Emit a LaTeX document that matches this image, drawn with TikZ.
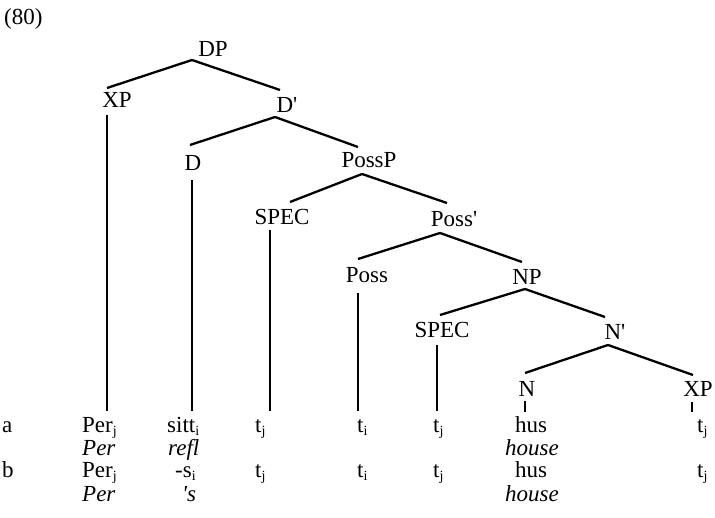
\documentclass[tikz,border=0pt]{standalone}
\usepackage{fontspec}
\setmainfont{Liberation Serif}
\newcommand\sbs[1]{\raisebox{-2.5pt}{\fontsize{14}{14}\selectfont #1}}
\begin{document}
\begin{tikzpicture}[x=1pt, y=-1pt,
  lab/.style={inner sep=0pt, anchor=base, font=\fontsize{23}{27}\selectfont},
  word/.style={lab, anchor=base west},
  gloss/.style={word, font=\fontsize{23}{27}\selectfont\itshape},
  branch/.style={line width=2.3pt}]

\useasboundingbox (0,0) rectangle (715,518);

\node[word] (num) at (4,25) {(80)};

% tree labels
\node[lab] (DP) at (213,57) {DP};
\node[lab] (XP) at (117,108) {XP};
\node[lab] (Dbar) at (287,113) {D\textquotesingle};
\node[lab] (D) at (193,171) {D};
\node[lab] (PossP) at (369,168) {PossP};
\node[lab] (specP) at (282,225) {SPEC};
\node[lab] (Possbar) at (454,227) {Poss\textquotesingle};
\node[lab] (Poss) at (367,283) {Poss};
\node[lab] (NP) at (527,285) {NP};
\node[lab] (specN) at (442,338) {SPEC};
\node[lab] (Nbar) at (615,340) {N\textquotesingle};
\node[lab] (N) at (527,397) {N};
\node[lab] (XPn) at (698,397) {XP};

% branches
\draw[branch] ([shift={(-21,3)}]DP.base) -- ([shift={(-10,-20)}]XP.base);
\draw[branch] ([shift={(-21,3)}]DP.base) -- ([shift={(-7,-23)}]Dbar.base);
\draw[branch] ([shift={(-12,4)}]Dbar.base) -- ([shift={(-3,-26)}]D.base);
\draw[branch] ([shift={(-12,4)}]Dbar.base) -- ([shift={(-11,-21)}]PossP.base);
\draw[branch] ([shift={(-7,6)}]PossP.base) -- ([shift={(8,-23)}]specP.base);
\draw[branch] ([shift={(-7,6)}]PossP.base) -- ([shift={(-7,-24)}]Possbar.base);
\draw[branch] ([shift={(-14,6)}]Possbar.base) -- ([shift={(-9,-24)}]Poss.base);
\draw[branch] ([shift={(-14,6)}]Possbar.base) -- ([shift={(-5,-23)}]NP.base);
\draw[branch] ([shift={(-2,4)}]NP.base) -- ([shift={(-2,-23)}]specN.base);
\draw[branch] ([shift={(-2,4)}]NP.base) -- ([shift={(-10,-23)}]Nbar.base);
\draw[branch] ([shift={(-7,5)}]Nbar.base) -- ([shift={(-2,-24)}]N.base);
\draw[branch] ([shift={(-7,5)}]Nbar.base) -- ([shift={(-5,-22)}]XPn.base);

% example rows
\node[word] (rowa) at (2,433) {a};
\node[word] (rowb) at (2,478) {b};

\foreach \x/\t [count=\i] in {82/Per\sbs{j}, 167/sitt\sbs{i},
  255/t\sbs{j}, 357/t\sbs{i}, 433/t\sbs{j},
  515/hus, 697/t\sbs{j}}
\node[word] (a\i) at (\x,433) {\t};

\foreach \x/\t [count=\i] in {82/Per\sbs{j}, 175/-s\sbs{i},
  255/t\sbs{j}, 357/t\sbs{i}, 433/t\sbs{j},
  515/hus, 697/t\sbs{j}}
\node[word] (b\i) at (\x,478) {\t};

\node[gloss] (ga1) at (82,456) {Per};
\node[gloss] (ga2) at (168,456) {refl};
\node[gloss] (ga6) at (505,456) {house};
\node[gloss] (gb1) at (82,501) {Per};
\node[gloss] (gb2) at (182,501) {\textquotesingle s};
\node[gloss] (gb6) at (505,501) {house};

% leaves
\draw[branch] ([shift={(-10,7)}]XP.base) -- ([shift={(25,-22)}]a1.base west);
\draw[branch] ([shift={(-1,9)}]D.base) -- ([shift={(25,-22)}]a2.base west);
\draw[branch] ([shift={(-12,5)}]specP.base) -- ([shift={(15,-22)}]a3.base west);
\draw[branch] ([shift={(-9,10)}]Poss.base) -- ([shift={(1,-22)}]a4.base west);
\draw[branch] ([shift={(-5,7)}]specN.base) -- ([shift={(4,-22)}]a5.base west);
\draw[branch] ([shift={(-2,4)}]N.base) -- ([shift={(10,-21)}]a6.base west);
\draw[branch] ([shift={(-6,5)}]XPn.base) -- ([shift={(-5,-21)}]a7.base west);
\end{tikzpicture}
\end{document}
